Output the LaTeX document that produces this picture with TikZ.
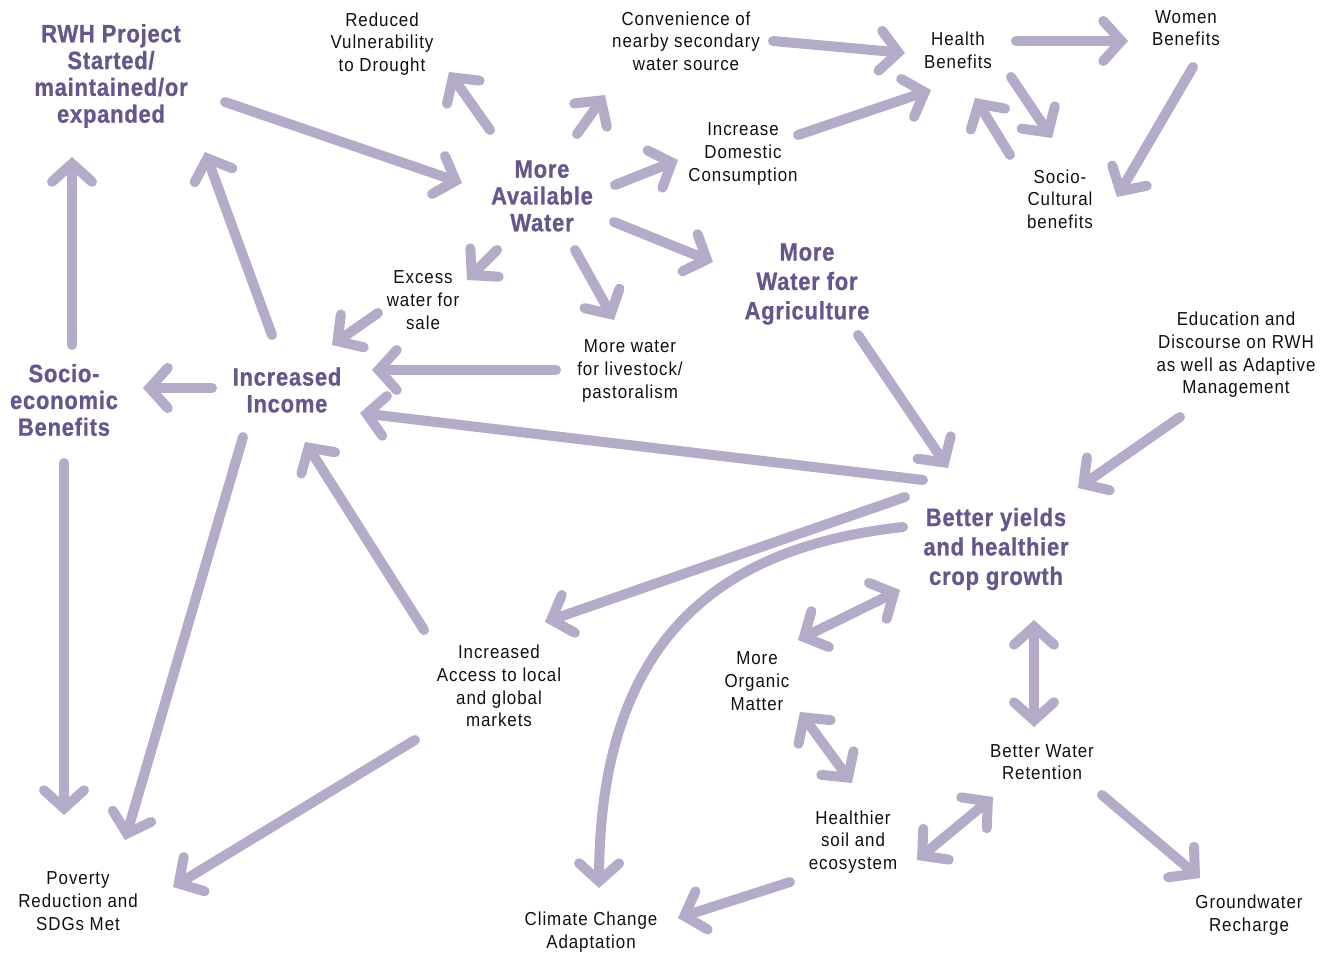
\documentclass[tikz,border=0pt]{standalone}
\usepackage{fontspec}
\setmainfont{Liberation Sans}[FakeStretch=0.9,LetterSpace=5]
\newfontfamily\bldfont{Liberation Sans}[FakeStretch=0.88,LetterSpace=3,BoldFeatures={FakeBold=0.8}]
\usetikzlibrary{arrows.meta}
\definecolor{lc}{HTML}{B3ABC8}
\definecolor{pc}{HTML}{66568C}
\definecolor{tc}{HTML}{101010}
\tikzset{
  txt/.style={align=center, inner sep=0pt, text=tc, font=\fontsize{18.8}{22.7}\selectfont},
  key/.style={align=center, inner sep=0pt, text=pc, font=\bldfont\bfseries\fontsize{25}{26.8}\selectfont},
  keyw/.style={key, font=\bldfont\bfseries\fontsize{25}{29.4}\selectfont},
  tipa/.tip={Straight Barb[length=18pt,width=40pt,line cap=round,line join=miter]},
  arr/.style={draw=lc, line width=10pt, line cap=round, -tipa},
  darr/.style={draw=lc, line width=10pt, line cap=round, tipa-tipa},
}
\begin{document}
\begin{tikzpicture}[x=1pt,y=-1pt]
\useasboundingbox (0,0) rectangle (1328,955);
% nodes
\node[key] (rwh) at (111,76) {RWH Project\\Started/\\maintained/or\\expanded};
\node[txt] (red) at (382,44) {Reduced\\Vulnerability\\to Drought};
\node[txt] (conv) at (686,41) {Convenience of\\nearby secondary\\water source};
\node[txt] (health) at (958,50) {Health\\Benefits};
\node[txt] (women) at (1186,28) {Women\\Benefits};
\node[key] (maw) at (542,196) {More\\Available\\Water};
\node[txt] (dom) at (743,154) {Increase\\Domestic\\Consumption};
\node[txt] (soccult) at (1060,199) {Socio-\\Cultural\\benefits};
\node[txt] (excess) at (423,300) {Excess\\water for\\sale};
\node[keyw] (mwa) at (807,284) {More\\Water for\\Agriculture};
\node[txt] (live) at (630,371) {More water\\for livestock/\\pastoralism};
\node[txt] (edu) at (1236,355) {Education and\\Discourse on RWH\\as well as Adaptive\\Management};
\node[key] (socec) at (64,400) {Socio-\\economic\\Benefits};
\node[key] (inc) at (287,390) {Increased\\Income};
\node[keyw] (yields) at (996,549) {Better yields\\and healthier\\crop growth};
\node[txt] (mkt) at (499,686) {Increased\\Access to local\\and global\\markets};
\node[txt] (org) at (757,681) {More\\Organic\\Matter};
\node[txt] (ret) at (1042,762) {Better Water\\Retention};
\node[txt] (soil) at (853,842) {Healthier\\soil and\\ecosystem};
\node[txt] (pov) at (78,901) {Poverty\\Reduction and\\SDGs Met};
\node[txt] (clim) at (591,932) {Climate Change\\Adaptation};
\node[txt] (gw) at (1249,915) {Groundwater\\Recharge};
% connectors
\draw[arr] ([shift={(114,26)}]rwh.center) -- ([shift={(-80,-13)}]maw.center);
\draw[arr] ([shift={(-52,-66)}]maw.center) -- ([shift={(67,28)}]red.center);
\draw[arr] ([shift={(35,-62)}]maw.center) -- ([shift={(-81,54)}]conv.center);
\draw[arr] ([shift={(73,-11)}]maw.center) -- ([shift={(-65,6)}]dom.center);
\draw[arr] ([shift={(-45,54)}]maw.center) -- ([shift={(44,-20)}]excess.center);
\draw[arr] ([shift={(33,54)}]maw.center) -- ([shift={(-16,-51)}]live.center);
\draw[arr] ([shift={(72,26)}]maw.center) -- ([shift={(-94,-22)}]mwa.center);
\draw[arr] ([shift={(87,0)}]conv.center) -- ([shift={(-53,3)}]health.center);
\draw[arr] ([shift={(55,-19)}]dom.center) -- ([shift={(-27,40)}]health.center);
\draw[arr] ([shift={(58,-9)}]health.center) -- ([shift={(-58,13)}]women.center);
\draw[arr] ([shift={(53,27)}]health.center) -- ([shift={(-8,-61)}]soccult.center);
\draw[arr] ([shift={(-50,-44)}]soccult.center) -- ([shift={(17,48)}]health.center);
\draw[arr] ([shift={(7,39)}]women.center) -- ([shift={(57,-2)}]soccult.center);
\draw[arr] ([shift={(-45,13)}]excess.center) -- ([shift={(45,-45)}]inc.center);
\draw[arr] ([shift={(-74,-1)}]live.center) -- ([shift={(85,-20)}]inc.center);
\draw[arr] ([shift={(-73,-69)}]yields.center) -- ([shift={(73,23)}]inc.center);
\draw[arr] ([shift={(-75,-2)}]inc.center) -- ([shift={(79,-12)}]socec.center);
\draw[arr] ([shift={(-15,-55)}]inc.center) -- ([shift={(94,76)}]rwh.center);
\draw[arr] ([shift={(8,-55)}]socec.center) -- ([shift={(-39,81)}]rwh.center);
\draw[arr] ([shift={(0,63)}]socec.center) -- ([shift={(-14,-86)}]pov.center);
\draw[arr] ([shift={(-44,47)}]inc.center) -- ([shift={(47,-61)}]pov.center);
\draw[arr] ([shift={(-75,-56)}]mkt.center) -- ([shift={(18,52)}]inc.center);
\draw[arr] ([shift={(-84,54)}]mkt.center) -- ([shift={(95,-14)}]pov.center);
\draw[arr] ([shift={(51,51)}]mwa.center) -- ([shift={(-48,-81)}]yields.center);
\draw[arr] ([shift={(-56,62)}]edu.center) -- ([shift={(82,-61)}]yields.center);
\draw[arr] ([shift={(-91,-52)}]yields.center) -- ([shift={(46,-64)}]mkt.center);
\draw[arr] ([shift={(-93,-22)}]yields.center) .. controls (740,545) and (600,620) .. ([shift={(8,-44)}]clim.center);
\draw[darr] ([shift={(-96,41)}]yields.center) -- ([shift={(41,-41)}]org.center);
\draw[darr] ([shift={(38,71)}]yields.center) -- ([shift={(-8,-35)}]ret.center);
\draw[darr] ([shift={(43,31)}]org.center) -- ([shift={(-1,-59)}]soil.center);
\draw[darr] ([shift={(-49,35)}]ret.center) -- ([shift={(64,18)}]soil.center);
\draw[arr] ([shift={(-63,40)}]soil.center) -- ([shift={(87,-14)}]clim.center);
\draw[arr] ([shift={(60,33)}]ret.center) -- ([shift={(-49,-37)}]gw.center);
\end{tikzpicture}
\end{document}
